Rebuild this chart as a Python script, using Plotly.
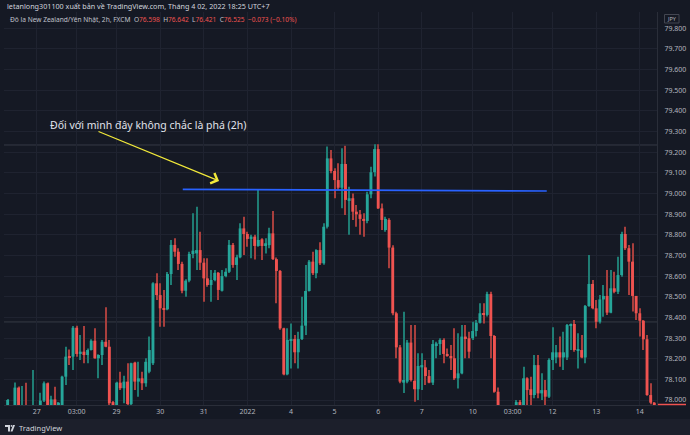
import plotly.graph_objects as go

# ---------------- data (2h candles, x = bar index) ----------------
idx = [1, 3, 4, 5, 6, 8, 10, 11, 12, 13, 14, 15, 16, 17, 18, 19, 20, 21, 22, 23, 24, 25, 26, 27, 28, 29, 30,
       31, 32, 33, 34, 35, 36, 37, 38, 39, 40, 41, 42, 43, 44, 45, 46, 47, 48, 49, 50, 51, 52, 53, 54, 55,
       56, 57, 58, 59, 60, 61, 62, 63, 64, 65, 66, 67, 68, 69, 70, 71, 72, 73, 74, 75, 76, 77, 78, 79, 80,
       81, 82, 83, 84, 85, 86, 87, 88, 89, 90, 91, 92, 93, 94, 95, 96, 97, 98, 99, 100, 101, 102, 103, 104,
       105, 106, 107, 108, 109, 110, 111, 112, 113, 114, 115, 116, 117, 118, 119, 120, 121, 122, 123, 124,
       125, 126, 127, 128, 129, 130, 131, 132, 133, 134, 135, 136, 141, 142, 143, 144, 145, 146, 147, 148,
       149, 150, 151, 152, 153, 154, 155, 156, 157, 158, 159, 160, 161, 162, 163, 164, 165, 166, 167, 168,
       169, 170, 171, 172, 173, 174, 175, 176, 177, 178, 179]

opens = [77.97, 77.95, 78.06, 77.93, 77.96, 77.92, 77.97, 77.997, 78.081, 77.96, 78.003, 77.96, 77.96, 78.113,
         78.213, 78.21, 78.35, 78.223, 78.234, 78.218, 78.242, 78.287, 78.202, 78.218, 78.282, 78.258, 77.99,
         77.96, 78.084, 78.057, 78.089, 77.98, 78.181, 78.089, 78.105, 78.081, 78.137, 78.178, 78.565, 78.508,
         78.444, 78.439, 78.61, 78.751, 78.718, 78.659, 78.529, 78.578, 78.707, 78.71, 78.726, 78.665, 78.589,
         78.557, 78.581, 78.616, 78.529, 78.6, 78.621, 78.751, 78.654, 78.691, 78.831, 78.804, 78.78, 78.791,
         78.746, 78.778, 78.75, 78.75, 78.807, 78.682, 78.625, 78.347, 78.124, 78.286, 78.295, 78.231, 78.295,
         78.36, 78.528, 78.67, 78.614, 78.726, 78.662, 78.839, 79.17, 79.109, 79.065, 79.028, 79.143, 78.964,
         78.977, 78.912, 78.899, 78.877, 78.867, 78.996, 79.103, 79.215, 78.928, 78.823, 78.872, 78.738, 78.42,
         78.255, 78.084, 78.089, 78.278, 78.093, 78.052, 78.158, 78.158, 78.116, 78.084, 78.266, 78.271, 78.291,
         78.223, 78.213, 78.202, 78.105, 78.129, 78.307, 78.299, 78.299, 78.334, 78.374, 78.42, 78.412, 78.513,
         78.31, 78.04, 77.96, 77.99, 77.96, 78.105, 78.052, 78.024, 78.169, 78.032, 78.048, 78.016, 78.194,
         78.206, 78.231, 78.206, 78.206, 78.358, 78.368, 78.239, 78.242, 78.206, 78.455, 78.562, 78.444, 78.379,
         78.487, 78.504, 78.423, 78.541, 78.524, 78.605, 78.804, 78.735, 78.67, 78.504, 78.42, 78.384, 78.294,
         78.024, 77.987]

highs = [78.005, 78.085, 78.065, 78.068, 78.084, 78.145, 78.035, 78.089, 78.085, 78.02, 78.064, 77.99, 78.118,
         78.258, 78.245, 78.358, 78.36, 78.315, 78.358, 78.25, 78.294, 78.347, 78.222, 78.29, 78.449, 78.29,
         77.995, 78.088, 78.137, 78.118, 78.178, 78.18, 78.185, 78.185, 78.137, 78.202, 78.307, 78.57, 78.614,
         78.565, 78.533, 78.62, 78.775, 78.783, 78.735, 78.67, 78.585, 78.718, 78.904, 78.936, 78.815, 78.686,
         78.686, 78.63, 78.63, 78.62, 78.63, 78.638, 78.775, 78.76, 78.703, 78.856, 78.888, 78.815, 78.8, 78.8,
         79.017, 78.783, 78.783, 78.834, 78.915, 78.69, 78.63, 78.35, 78.347, 78.371, 78.315, 78.331, 78.5,
         78.654, 78.678, 78.718, 78.73, 78.764, 78.856, 79.227, 79.211, 79.122, 79.146, 79.219, 79.231, 79.033,
         79.0, 78.944, 78.92, 78.904, 79.009, 79.13, 79.238, 79.238, 78.952, 78.888, 78.88, 78.75, 78.427,
         78.266, 78.427, 78.291, 78.363, 78.363, 78.226, 78.226, 78.194, 78.145, 78.291, 78.282, 78.299, 78.299,
         78.25, 78.266, 78.347, 78.323, 78.363, 78.363, 78.331, 78.379, 78.387, 78.468, 78.468, 78.524, 78.524,
         78.315, 78.06, 78.0, 78.0, 78.161, 78.11, 78.113, 78.218, 78.218, 78.129, 78.097, 78.202, 78.352,
         78.266, 78.307, 78.331, 78.368, 78.371, 78.387, 78.323, 78.315, 78.46, 78.702, 78.581, 78.484, 78.508,
         78.557, 78.63, 78.63, 78.621, 78.694, 78.815, 78.839, 78.751, 78.759, 78.504, 78.444, 78.387, 78.315,
         78.081, 77.99]

lows = [77.96, 77.94, 77.94, 77.92, 77.92, 77.90, 77.95, 77.99, 77.95, 77.95, 77.95, 77.95, 77.95, 78.073,
        78.17, 78.145, 78.21, 78.194, 78.178, 78.178, 78.24, 78.2, 78.105, 78.17, 78.255, 77.96, 77.95, 77.95,
        78.048, 77.984, 77.975, 77.975, 78.048, 78.016, 78.048, 78.064, 78.129, 78.17, 78.484, 78.355, 78.355,
        78.435, 78.557, 78.694, 78.63, 78.517, 78.5, 78.57, 78.686, 78.63, 78.63, 78.476, 78.549, 78.476,
        78.575, 78.484, 78.525, 78.595, 78.615, 78.64, 78.581, 78.686, 78.702, 78.742, 78.686, 78.68, 78.742,
        78.678, 78.71, 78.735, 78.678, 78.468, 78.34, 78.12, 78.12, 78.153, 78.178, 78.153, 78.29, 78.315,
        78.525, 78.605, 78.59, 78.654, 78.655, 78.83, 79.098, 78.977, 79.017, 78.928, 78.896, 78.8, 78.872,
        78.839, 78.8, 78.791, 78.856, 78.977, 79.082, 78.925, 78.823, 78.815, 78.638, 78.41, 78.202, 78.081,
        78.034, 78.081, 78.089, 77.992, 78.0, 78.048, 78.073, 78.081, 78.073, 78.202, 78.218, 78.178, 78.21,
        78.145, 78.097, 78.056, 78.125, 78.202, 78.202, 78.291, 78.307, 78.371, 78.371, 78.404, 78.202, 78.035,
        77.95, 77.95, 77.95, 77.95, 77.96, 77.96, 78.008, 78.008, 78.0, 77.97, 78.01, 78.145, 78.178, 78.161,
        78.145, 78.194, 78.242, 78.234, 78.153, 78.202, 78.178, 78.452, 78.44, 78.347, 78.371, 78.403, 78.412,
        78.42, 78.517, 78.513, 78.597, 78.726, 78.509, 78.428, 78.387, 78.307, 78.242, 78.02, 77.98, 77.96]

closes = [78.00, 78.06, 77.95, 77.97, 77.93, 77.96, 77.997, 78.081, 77.96, 78.003, 77.96, 77.987, 78.113, 78.21,
          78.207, 78.35, 78.223, 78.234, 78.218, 78.242, 78.287, 78.202, 78.218, 78.282, 78.258, 77.984, 77.97,
          78.084, 78.057, 78.089, 77.98, 78.178, 78.089, 78.105, 78.081, 78.185, 78.242, 78.565, 78.508, 78.444,
          78.436, 78.61, 78.751, 78.718, 78.659, 78.529, 78.578, 78.707, 78.723, 78.726, 78.665, 78.589, 78.557,
          78.581, 78.616, 78.533, 78.6, 78.621, 78.751, 78.654, 78.691, 78.831, 78.804, 78.78, 78.791, 78.746,
          78.775, 78.746, 78.759, 78.807, 78.682, 78.625, 78.347, 78.124, 78.291, 78.295, 78.231, 78.295, 78.36,
          78.528, 78.67, 78.614, 78.726, 78.662, 78.839, 79.17, 79.109, 79.065, 79.028, 79.143, 78.969, 78.977,
          78.912, 78.899, 78.877, 78.867, 78.996, 79.103, 79.215, 78.928, 78.872, 78.877, 78.738, 78.42, 78.255,
          78.089, 78.097, 78.278, 78.097, 78.052, 78.165, 78.169, 78.116, 78.084, 78.271, 78.274, 78.291, 78.223,
          78.213, 78.202, 78.105, 78.129, 78.307, 78.299, 78.234, 78.334, 78.374, 78.42, 78.412, 78.513, 78.31,
          78.04, 77.96, 77.99, 77.97, 78.105, 78.048, 78.024, 78.169, 78.032, 78.048, 78.016, 78.194, 78.231,
          78.231, 78.206, 78.231, 78.363, 78.368, 78.242, 78.245, 78.206, 78.455, 78.562, 78.444, 78.379, 78.487,
          78.504, 78.423, 78.541, 78.524, 78.605, 78.804, 78.735, 78.67, 78.504, 78.42, 78.384, 78.294, 78.024,
          77.987, 77.968]

tick_pos = [9, 20, 31, 43, 55, 67, 79, 91, 103, 115, 129, 140, 151, 163, 175]
tick_lbl = ["27", "03:00", "29", "30", "31", "2022", "4", "5", "6", "7", "10", "03:00", "12", "13", "14"]

price_ticks = [78.0, 78.1, 78.2, 78.3, 78.4, 78.5, 78.6, 78.7, 78.8, 78.9,
               79.0, 79.1, 79.2, 79.3, 79.4, 79.5, 79.6, 79.7, 79.8]
price_lbl = ["78.000", "78.100", "78.200", "78.300", "78.400", "78.500", "78.600", "78.700", "78.800", "78.900",
             "79.000", "79.100", "79.200", "79.300", "79.400", "79.500", "79.600", "79.700", "79.800"]

# drawings (anchors in data units)
blue_line = dict(x0=49.2, y0=79.020, x1=149.4, y1=79.012)
grey_levels = [79.235, 78.378]
arrow_tail = (25.6, 79.303)
arrow_head = (59.2, 79.061)
note_pos = (39.6, 79.333)
note_text = "Đối với mình đây không chắc là phá (2h)"

# ---------------- styling ----------------
BG = "#151924"
UP, DN = "#26a69a", "#ef5350"
UPW, DNW = "#1f7d74", "#a83f3d"
GRID = "#1f2330"
TXT = "#b2b5be"
FONT = "Noto Sans"

up = [c >= o for o, c in zip(opens, closes)]
body_base = [min(o, c) for o, c in zip(opens, closes)]
body_h = [max(abs(c - o), 0.005) for o, c in zip(opens, closes)]
wick_h = [h - l for h, l in zip(highs, lows)]

fig = go.Figure()
fig.add_trace(go.Bar(x=idx, y=wick_h, base=lows, width=0.28,
                     marker=dict(color=[UPW if u else DNW for u in up], line=dict(width=0)),
                     hoverinfo="skip", showlegend=False))
fig.add_trace(go.Bar(x=idx, y=body_h, base=body_base, width=0.8,
                     marker=dict(color=[UP if u else DN for u in up], line=dict(width=0)),
                     hoverinfo="skip", showlegend=False))

W, H = 690, 435
ML, MR, MT, MB = 4, 33, 12, 30
PW, PH = W - ML - MR, H - MT - MB


def px(x):
    return (x - ML) / PW


def py(y):
    return (H - MB - y) / PH


shapes = []
# bottom strip
shapes.append(dict(type="rect", xref="paper", yref="paper", x0=px(0), x1=px(W), y0=py(419), y1=py(H),
                   fillcolor="#1c1f2b", line=dict(width=0), layer="below"))
for lv in grey_levels:
    shapes.append(dict(type="line", xref="paper", yref="y", x0=0, x1=1, y0=lv, y1=lv,
                       line=dict(color="#363a45", width=1), layer="below"))
shapes.append(dict(type="line", xref="x", yref="y", **blue_line, line=dict(color="#2962ff", width=1.7)))
# current price marker under the axis label
shapes.append(dict(type="line", xref="paper", yref="paper", x0=px(658), x1=px(686), y0=py(404.5), y1=py(404.5),
                   line=dict(color=DN, width=1.5)))
# JPY box
shapes.append(dict(type="rect", xref="paper", yref="paper", x0=px(664.5), x1=px(679), y0=py(14.5), y1=py(23),
                   line=dict(color="#434651", width=1), fillcolor=BG))
# TradingView logo glyph
shapes.append(dict(type="path", xref="paper", yref="paper",
                   path=f"M {px(5)},{py(425)} L {px(10)},{py(425)} L {px(10)},{py(431.5)} L {px(8)},{py(431.5)} "
                        f"L {px(8)},{py(427)} L {px(5)},{py(427)} Z",
                   fillcolor="#d1d4dc", line=dict(width=0)))
shapes.append(dict(type="circle", xref="paper", yref="paper", x0=px(10.6), x1=px(12.4), y0=py(425), y1=py(426.8),
                   fillcolor="#d1d4dc", line=dict(width=0)))
shapes.append(dict(type="path", xref="paper", yref="paper",
                   path=f"M {px(10.5)},{py(431.5)} L {px(13)},{py(425)} L {px(15)},{py(425)} L {px(12.5)},{py(431.5)} Z",
                   fillcolor="#d1d4dc", line=dict(width=0)))

hdr2 = ("Đô la New Zealand/Yên Nhật, 2h, FXCM  O<span style='color:#ef5350'>76.598</span>  "
        "H<span style='color:#ef5350'>76.642</span>  L<span style='color:#ef5350'>76.421</span>  "
        "C<span style='color:#ef5350'>76.525</span>  <span style='color:#ef5350'>−0.073 (−0.10%)</span>")

annotations = [
    dict(xref="paper", yref="paper", x=px(5), y=py(6), xanchor="left", yanchor="middle", showarrow=False,
         text="letanlong301100 xuất bản về TradingView.com, Tháng 4 02, 2022 18:25 UTC+7",
         font=dict(family=FONT, size=7.2, color="#d1d4dc")),
    dict(xref="paper", yref="paper", x=px(8), y=py(20), xanchor="left", yanchor="middle", showarrow=False,
         text=hdr2, font=dict(family=FONT, size=6.6, color="#c0c3cc")),
    dict(xref="paper", yref="paper", x=px(671.7), y=py(18.8), xanchor="center", yanchor="middle", showarrow=False,
         text="JPY", font=dict(family=FONT, size=5.5, color=TXT)),
    dict(xref="paper", yref="paper", x=px(17), y=py(428), xanchor="left", yanchor="middle", showarrow=False,
         text="TradingView", font=dict(family=FONT, size=7.5, color="#d1d4dc")),
    dict(xref="x", yref="y", x=note_pos[0], y=note_pos[1], showarrow=False, text=note_text,
         font=dict(family=FONT, size=10.5, color="#e0e3eb"), xanchor="center", yanchor="middle"),
    dict(xref="x", yref="y", axref="x", ayref="y", x=arrow_head[0], y=arrow_head[1],
         ax=arrow_tail[0], ay=arrow_tail[1], text="", showarrow=True, arrowhead=4, arrowsize=1.8,
         arrowwidth=1.2, arrowcolor="#f2ea3a"),
]

fig.update_layout(
    width=W, height=H, margin=dict(l=ML, r=MR, t=MT, b=MB, pad=0),
    paper_bgcolor=BG, plot_bgcolor=BG, barmode="overlay", showlegend=False,
    shapes=shapes, annotations=annotations,
    xaxis=dict(range=[0, PW / 3.633], tickvals=tick_pos, ticktext=tick_lbl, showgrid=True, gridcolor=GRID,
               gridwidth=1, zeroline=False, showline=True, linecolor="#2a2e39", ticks="",
               tickfont=dict(family=FONT, size=7, color=TXT), fixedrange=True),
    yaxis=dict(range=[78 - 5 / 206.5, 78 + 388 / 206.5], side="right", tickvals=price_ticks, ticktext=price_lbl,
               showgrid=True, gridcolor=GRID, gridwidth=1, zeroline=False, showline=True, linecolor="#2a2e39",
               ticks="", ticklabelstandoff=5, tickfont=dict(family=FONT, size=7, color=TXT), fixedrange=True),
)

fig.write_html("out.html")
